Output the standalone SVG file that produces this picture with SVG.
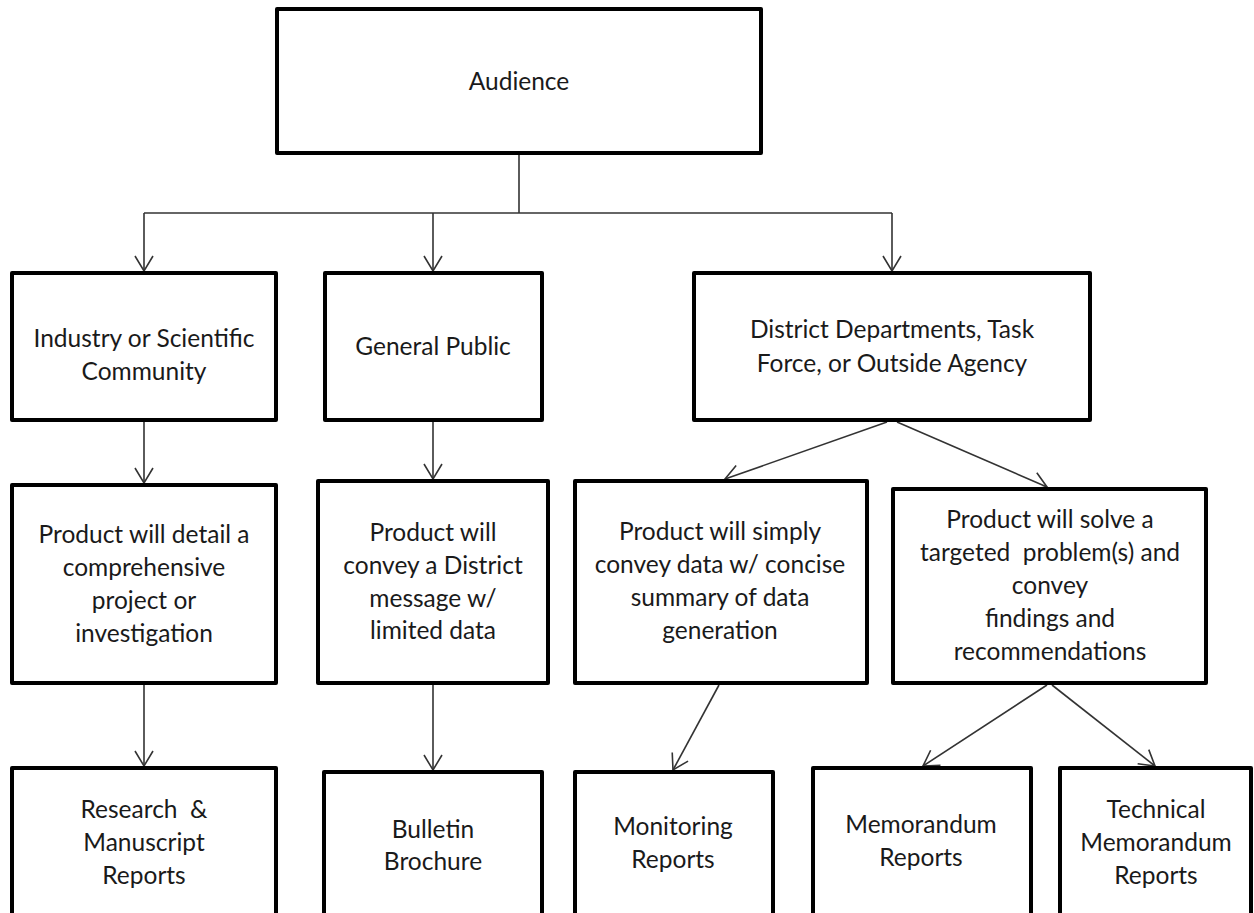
<svg xmlns="http://www.w3.org/2000/svg" width="1254" height="913" viewBox="0 0 1254 913">
<defs>
<style>
.box{fill:#fff;stroke:#000;stroke-width:4;stroke-linejoin:round}
.t{font-family:Lato,"Liberation Sans",sans-serif;font-size:24.5px;fill:#1a1a1a;text-anchor:middle}
.c{stroke:#333;stroke-width:1.6;fill:none}
.ca{stroke:#333;stroke-width:1.6;fill:none;marker-end:url(#arr)}
</style>
<marker id="arr" markerUnits="userSpaceOnUse" markerWidth="20" markerHeight="22" refX="16" refY="10" orient="auto">
<path d="M1,1 L16,10 L1,19" fill="none" stroke="#333" stroke-width="1.6"/>
</marker>
</defs>
<rect width="1254" height="913" fill="#fff"/>
<g id="connectors">
<line class="c" x1="519" y1="155" x2="519" y2="213"/>
<line class="c" x1="144" y1="213" x2="892" y2="213"/>
<line class="ca" x1="144" y1="213" x2="144" y2="271"/>
<line class="ca" x1="433" y1="213" x2="433" y2="271"/>
<line class="ca" x1="892" y1="213" x2="892" y2="271"/>
<line class="ca" x1="144" y1="422" x2="144" y2="483"/>
<line class="ca" x1="433" y1="422" x2="433" y2="479"/>
<line class="ca" x1="887" y1="422" x2="725" y2="479"/>
<line class="ca" x1="897" y1="422" x2="1047" y2="487"/>
<line class="ca" x1="144" y1="685" x2="144" y2="766"/>
<line class="ca" x1="433" y1="685" x2="433" y2="770"/>
<line class="ca" x1="719" y1="685" x2="673" y2="770"/>
<line class="ca" x1="1047" y1="685" x2="923" y2="766"/>
<line class="ca" x1="1052" y1="685" x2="1155" y2="766"/>
</g>
<g id="audience">
<rect class="box" x="277" y="9" width="484" height="144"/>
<text class="t" x="519" y="90">Audience</text>
</g>
<g id="industry">
<rect class="box" x="12" y="273" width="264" height="147"/>
<text class="t" x="144" y="347">Industry or Scientific</text>
<text class="t" x="144" y="380">Community</text>
</g>
<g id="public">
<rect class="box" x="325" y="273" width="217" height="147"/>
<text class="t" x="433" y="355">General Public</text>
</g>
<g id="district">
<rect class="box" x="694" y="273" width="396" height="147"/>
<text class="t" x="892" y="338">District Departments, Task</text>
<text class="t" x="892" y="372">Force, or Outside Agency</text>
</g>
<g id="product-detail">
<rect class="box" x="12" y="485" width="264" height="198"/>
<text class="t" x="144" y="543">Product will detail a</text>
<text class="t" x="144" y="576">comprehensive</text>
<text class="t" x="144" y="609">project or</text>
<text class="t" x="144" y="642">investigation</text>
</g>
<g id="product-message">
<rect class="box" x="318" y="481" width="230" height="202"/>
<text class="t" x="433" y="541">Product will</text>
<text class="t" x="433" y="574">convey a District</text>
<text class="t" x="433" y="607">message w/</text>
<text class="t" x="433" y="639">limited data</text>
</g>
<g id="product-data">
<rect class="box" x="575" y="481" width="292" height="202"/>
<text class="t" x="720" y="540">Product will simply</text>
<text class="t" x="720" y="573">convey data w/ concise</text>
<text class="t" x="720" y="606">summary of data</text>
<text class="t" x="720" y="639">generation</text>
</g>
<g id="product-solve">
<rect class="box" x="893" y="489" width="313" height="194"/>
<text class="t" x="1050" y="528">Product will solve a</text>
<text class="t" x="1050" y="561" xml:space="preserve">targeted  problem(s) and</text>
<text class="t" x="1050" y="594">convey</text>
<text class="t" x="1050" y="627">findings and</text>
<text class="t" x="1050" y="660">recommendations</text>
</g>
<g id="research">
<rect class="box" x="12" y="768" width="264" height="180"/>
<text class="t" x="144" y="818" xml:space="preserve">Research  &amp;</text>
<text class="t" x="144" y="851">Manuscript</text>
<text class="t" x="144" y="884">Reports</text>
</g>
<g id="bulletin">
<rect class="box" x="324" y="772" width="218" height="180"/>
<text class="t" x="433" y="838">Bulletin</text>
<text class="t" x="433" y="870">Brochure</text>
</g>
<g id="monitoring">
<rect class="box" x="575" y="772" width="198" height="180"/>
<text class="t" x="673" y="835">Monitoring</text>
<text class="t" x="673" y="868">Reports</text>
</g>
<g id="memorandum">
<rect class="box" x="813" y="768" width="218" height="180"/>
<text class="t" x="921" y="833">Memorandum</text>
<text class="t" x="921" y="866">Reports</text>
</g>
<g id="technical">
<rect class="box" x="1060" y="768" width="191" height="180"/>
<text class="t" x="1156" y="818">Technical</text>
<text class="t" x="1156" y="851">Memorandum</text>
<text class="t" x="1156" y="884">Reports</text>
</g>
</svg>
